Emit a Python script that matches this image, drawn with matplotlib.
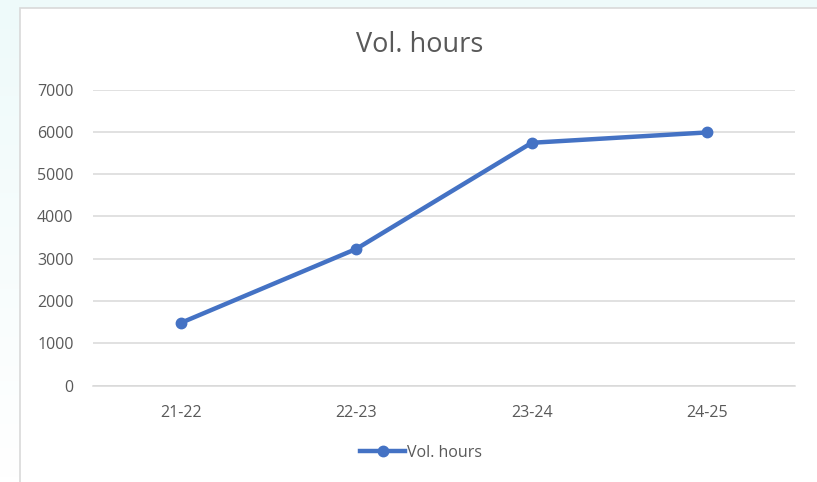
import numpy as np
import matplotlib
matplotlib.use("Agg")
import matplotlib.pyplot as plt
from matplotlib.lines import Line2D
from matplotlib.patches import Rectangle

# data
seasons = ["21-22", "22-23", "23-24", "24-25"]
vol_hours = [1480, 3230, 5740, 5985]
y_ticks = [0, 1000, 2000, 3000, 4000, 5000, 6000, 7000]

W, H = 817, 482
line_blue = "#4472C4"
text_grey = "#595959"
grid_grey = "#d9d9d9"

plt.rcParams["font.family"] = ["Open Sans", "DejaVu Sans"]

fig = plt.figure(figsize=(W / 100, H / 100), dpi=100)
fig.patch.set_facecolor("white")

# pale cyan background behind the chart frame (top strip + fading left strip)
bg = fig.add_axes([0, 0, 1, 1], zorder=-10)
bg.set_xlim(0, W)
bg.set_ylim(H, 0)
bg.axis("off")
grad = np.linspace(1, 0, 100).reshape(-1, 1)
bg.imshow(grad, extent=(0, 20, H, 0), cmap=matplotlib.colors.LinearSegmentedColormap.from_list(
    "c", ["#ffffff", "#eefafa"]), aspect="auto", vmin=0, vmax=1)
bg.add_patch(Rectangle((0, 0), W, 8, color="#eefafa", lw=0))
bg.add_patch(Rectangle((20, 8), W + 10, H + 10, facecolor="white", edgecolor=grid_grey, lw=1.2))

ax = fig.add_axes([93 / W, 1 - 385.5 / H, (795 - 93) / W, (385.5 - 89.5) / H])
ax.set_facecolor("none")
x = np.arange(len(seasons))
ax.plot(x, vol_hours, color=line_blue, lw=3.2, marker="o", ms=7.5,
        solid_capstyle="round", zorder=3)

ax.set_xlim(-0.5, len(seasons) - 0.5)
ax.set_ylim(0, 7000)
ax.set_yticks(y_ticks)
ax.set_xticks(x)
ax.set_xticklabels(seasons)
ax.yaxis.grid(True, color=grid_grey, lw=1.1)
ax.set_axisbelow(True)
for s in ["top", "right", "left"]:
    ax.spines[s].set_visible(False)
ax.spines["bottom"].set_color(grid_grey)
ax.spines["bottom"].set_linewidth(1.1)
ax.tick_params(axis="both", length=0, labelsize=11.5, colors=text_grey)
ax.tick_params(axis="y", pad=14)
ax.tick_params(axis="x", pad=14)

fig.text(420 / W, 1 - 45 / H, "Vol. hours", ha="center", va="center",
         fontsize=19.5, color=text_grey)

handle = Line2D([], [], color=line_blue, lw=3.2, marker="o", ms=7.5)
fig.legend([handle], ["Vol. hours"], loc="center", bbox_to_anchor=(421 / W, 1 - 453 / H),
           frameon=False, fontsize=11.5, labelcolor=text_grey, handlelength=2.8,
           handletextpad=0.1)

fig.savefig("out.png", dpi=100, facecolor=fig.get_facecolor())
